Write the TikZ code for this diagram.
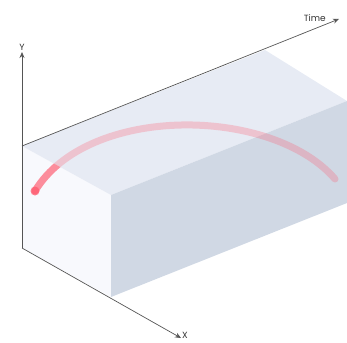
\documentclass[tikz,border=0pt]{standalone}
\usepackage{fontspec}
\setmainfont{Poppins}
\usetikzlibrary{arrows.meta, positioning}
\definecolor{facefront}{HTML}{F8F9FD}
\definecolor{facetop}{HTML}{E7EBF4}
\definecolor{faceside}{HTML}{D0D8E4}
\definecolor{axisgray}{HTML}{555555}
\definecolor{arcred}{HTML}{FF5A6E}

\begin{document}
\begin{tikzpicture}[
    x=1pt, y=-1pt,
    axis/.style={-{Stealth[length=6pt, width=5pt]}, draw=axisgray, line width=0.7pt},
    axislabel/.style={inner sep=0pt, font=\fontsize{9}{10}\selectfont, text=black!80},
    arcband/.style={draw=arcred, line width=7pt, line cap=round, opacity=0.27}
]
\useasboundingbox (0,0) rectangle (347,342);

% Corners
\coordinate (Origin) at (22,248);
\coordinate (TopLeft) at (22,146);
\coordinate (FrontTop) at (111,195);
\coordinate (FrontBottom) at (111,297);
\coordinate (BackTop) at (265,50);
\coordinate (RightTop) at (347,101);
\coordinate (RightBottom) at (347,203);
\coordinate (YEnd) at (22,52);
\coordinate (TimeEnd) at (339,19);
\coordinate (XEnd) at (181,338);
\coordinate (ArcStart) at (35,191);
\coordinate (ArcEnd) at (335,179);

% Faces
\fill[facefront] (Origin) -- (TopLeft) -- (FrontTop) -- (FrontBottom) -- cycle;
\fill[facetop] (TopLeft) -- (BackTop) -- (RightTop) -- (FrontTop) -- cycle;
\fill[faceside] (FrontTop) -- (RightTop) -- (RightBottom) -- (FrontBottom) -- cycle;

% Arc
\draw[arcband] (ArcStart) .. controls (88,104) and (272,106) .. (ArcEnd);
\begin{scope}
\clip (Origin) -- (TopLeft) -- (FrontTop) -- (FrontBottom) -- cycle;
\draw[arcband, opacity=0.55] (ArcStart) .. controls (88,104) and (272,106) .. (ArcEnd);
\end{scope}
\fill[arcred, opacity=0.75] (ArcStart) circle (4.5pt);

% Axes
\draw[draw=axisgray, line width=0.7pt] (Origin) -- (TopLeft);
\draw[axis] (TopLeft) -- (YEnd);
\draw[axis] (TopLeft) -- (TimeEnd);
\draw[axis] (Origin) -- (XEnd);

% Labels
\node[axislabel, above=1.5pt of YEnd] (YLabel) {Y};
\node[axislabel, left=13pt of TimeEnd, yshift=1pt] (TimeLabel) {Time};
\node[axislabel, right=1pt of XEnd, yshift=3pt] (XLabel) {X};

\end{tikzpicture}
\end{document}
